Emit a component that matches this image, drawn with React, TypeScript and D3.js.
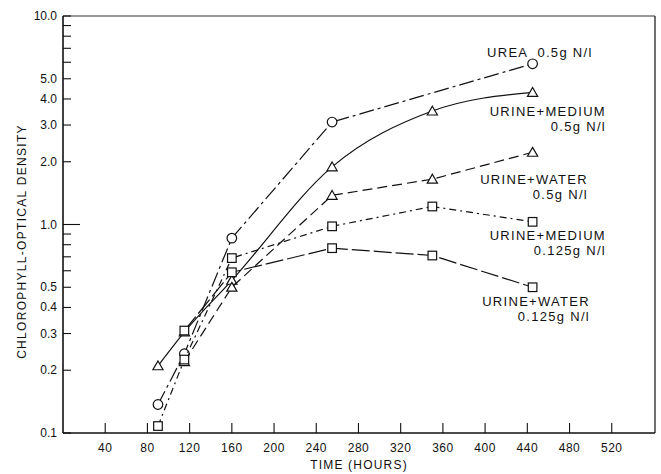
import React from 'react';
import * as d3 from 'd3';

const W = 661;
const H = 474;

// hours on the x axis
const hours = [90, 115, 160, 255, 350, 445];
const xTicks = [40, 80, 120, 160, 200, 240, 280, 320, 360, 400, 440, 480, 520];
const yTicks = [0.1, 0.2, 0.3, 0.4, 0.5, 1.0, 2.0, 3.0, 4.0, 5.0, 10.0];
const yMinor = [0.6, 0.7, 0.8, 0.9, 6, 7, 8, 9];

// series values (null = no reading)
const urea = [0.137, 0.24, 0.86, 3.1, null, 5.9];
const urineMedium05 = [0.21, 0.305, 0.54, 1.89, 3.5, 4.3];
const urineWater05 = [null, 0.22, 0.5, 1.38, 1.65, 2.22];
const urineMedium0125 = [0.108, 0.225, 0.69, 0.98, 1.22, 1.03];
const urineWater0125 = [null, 0.31, 0.59, 0.77, 0.71, 0.5];

const series = [
  { name: 'urea', values: urea, marker: 'circle', dash: '15 4 3 4', smooth: false },
  { name: 'um05', values: urineMedium05, marker: 'triangle', dash: null, smooth: true },
  { name: 'uw05', values: urineWater05, marker: 'triangle', dash: '10 5', smooth: false },
  { name: 'um0125', values: urineMedium0125, marker: 'square', dash: '7 4 2 4', smooth: false },
  { name: 'uw0125', values: urineWater0125, marker: 'square', dash: '18 4', smooth: false },
];

const labels = [
  { lines: ['UREA  0.5g N/l'], x: 487, y: 57, anchor: 'start' },
  { lines: ['URINE+MEDIUM', '0.5g N/l'], x: 606, y: 116, anchor: 'end' },
  { lines: ['URINE+WATER', '0.5g N/l'], x: 588, y: 184, anchor: 'end' },
  { lines: ['URINE+MEDIUM', '0.125g N/l'], x: 606, y: 240, anchor: 'end' },
  { lines: ['URINE+WATER', '0.125g N/l'], x: 590, y: 306, anchor: 'end' },
];

const margin = { top: 16, right: 6, bottom: 41, left: 63 };
const font = '"Liberation Sans", Arial, sans-serif';

export default function App() {
  const x = d3.scaleLinear().domain([0, 561]).range([margin.left, W - margin.right]);
  const y = d3.scaleLog().domain([0.1, 10]).range([H - margin.bottom, margin.top]);
  const x0 = margin.left, x1 = W - margin.right, y0 = H - margin.bottom, y1 = margin.top;

  const marker = (kind, cx, cy, key) => {
    if (kind === 'circle') return <circle key={key} cx={cx} cy={cy} r={4.8} fill="#fff" stroke="#111" strokeWidth={1.2} />;
    if (kind === 'square') return <rect key={key} x={cx - 4.3} y={cy - 4.3} width={8.6} height={8.6} fill="#fff" stroke="#111" strokeWidth={1.2} />;
    const p = d3.symbol(d3.symbolTriangle, 45)();
    return <path key={key} d={p} transform={`translate(${cx},${cy + 1})`} fill="#fff" stroke="#111" strokeWidth={1.2} />;
  };

  return (
    <svg width={W} height={H} style={{ position: 'absolute', left: 0, top: 0, background: '#fff' }} fontFamily={font}>
      {/* frame */}
      <line x1={x0} x2={x1} y1={y1} y2={y1} stroke="#333" strokeWidth={1} />
      <line x1={x1} x2={x1} y1={y1} y2={y0} stroke="#222" strokeWidth={1.3} />
      <line x1={x0} x2={x0} y1={y1} y2={y0} stroke="#111" strokeWidth={1.6} />
      <line x1={x0} x2={x1} y1={y0} y2={y0} stroke="#111" strokeWidth={1.6} />

      {/* y ticks */}
      {yTicks.map(t => (
        <g key={'y' + t}>
          <line x1={x0} x2={x0 + (t === 1 ? 17 : 8)} y1={y(t)} y2={y(t)} stroke="#111" strokeWidth={1.1} />
          <text x={57} y={y(t) + 4} fontSize={12} textAnchor="end" fill="#111">{t.toFixed(1)}</text>
        </g>
      ))}
      {yMinor.map(t => (
        <line key={'m' + t} x1={x0} x2={x0 + 8} y1={y(t)} y2={y(t)} stroke="#111" strokeWidth={1.1} />
      ))}

      {/* x ticks */}
      {xTicks.map(t => (
        <g key={'x' + t}>
          <line x1={x(t)} x2={x(t)} y1={y0} y2={y0 - 10} stroke="#111" strokeWidth={1.1} />
          <text x={x(t)} y={452} fontSize={12} textAnchor="middle" fill="#111" letterSpacing={0.5}>{t}</text>
        </g>
      ))}

      <text x={(x0 + x1) / 2} y={469} fontSize={12} textAnchor="middle" letterSpacing={1.2} fill="#111">TIME (HOURS)</text>
      <text transform={`translate(26,${(y0 + y1) / 2 + 17}) rotate(-90)`} fontSize={12} textAnchor="middle" letterSpacing={1.3} fill="#111">
        CHLOROPHYLL-OPTICAL DENSITY
      </text>

      {/* series */}
      {series.map(s => {
        const pts = hours.map((h, i) => [h, s.values[i]]).filter(d => d[1] != null);
        const line = d3.line().x(d => x(d[0])).y(d => y(d[1]));
        if (s.smooth) line.curve(d3.curveMonotoneX);
        return (
          <g key={s.name}>
            <path d={line(pts)} fill="none" stroke="#111" strokeWidth={1.2} strokeDasharray={s.dash || undefined} />
            {pts.map((d, i) => marker(s.marker, x(d[0]), y(d[1]), i))}
          </g>
        );
      })}

      {/* series labels */}
      {labels.map((l, i) => (
        <text key={i} fontSize={13} letterSpacing={1.3} fill="#111" textAnchor={l.anchor}>
          {l.lines.map((ln, j) => (
            <tspan key={j} x={l.x} y={l.y + j * 15} xmlSpace="preserve">{ln}</tspan>
          ))}
        </text>
      ))}
    </svg>
  );
}
